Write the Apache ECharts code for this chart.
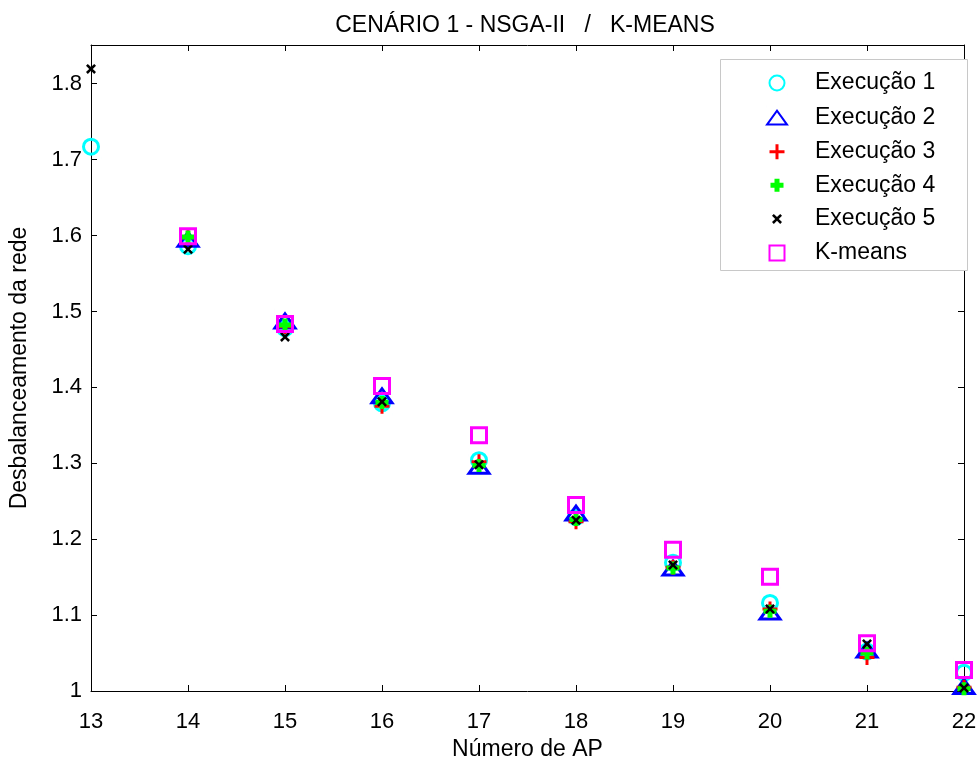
<!DOCTYPE html>
<html>
<head>
<meta charset="utf-8">
<script src="https://cdn.jsdelivr.net/npm/echarts@6/dist/echarts.min.js"></script>
<style>
  html, body { margin: 0; padding: 0; background: #fff; }
  #chart { width: 980px; height: 759px; }
</style>
</head>
<body>
<div id="chart"></div>
<script>
// Number of APs on the x axis
const numAP = [13, 14, 15, 16, 17, 18, 19, 20, 21, 22];
const yTicks = [1, 1.1, 1.2, 1.3, 1.4, 1.5, 1.6, 1.7, 1.8];

// Network imbalance per run (null = no solution drawn)
const execucao1 = [1.717, 1.586, 1.478, 1.379, 1.304, 1.229, 1.169, 1.116, 1.052, 1.024];
const execucao2 = [null, 1.595, 1.4875, 1.389, 1.296, 1.2345, 1.162, 1.104, 1.054, 1.006];
const execucao3 = [null, 1.597, 1.480, 1.375, 1.302, 1.223, 1.163, 1.108, 1.044, 1.005];
const execucao4 = [null, 1.598, 1.482, 1.380, 1.297, 1.226, 1.162, 1.105, 1.050, 1.003];
const execucao5 = [1.8195, 1.582, 1.4665, 1.381, 1.298, 1.225, 1.166, 1.108, 1.062, 1.004];
const kmeans    = [null, 1.599, 1.4835, 1.4018, 1.337, 1.245, 1.186, 1.1506, 1.063, 1.0277];

const seriesNames = ['Execução 1', 'Execução 2', 'Execução 3', 'Execução 4', 'Execução 5', 'K-means'];

function pairs(values) {
  const out = [];
  numAP.forEach((x, i) => { if (values[i] !== null) out.push([x, values[i]]); });
  return out;
}

// Marker outlines drawn inside a common 22x22 frame so every marker keeps
// its own size both on the plot and in the legend.
const frame = ' M0,0 L0.01,0 M22,22 L21.99,22';
const circlePath = 'path://M3.5,11 A7.5,7.5 0 1 1 18.5,11 A7.5,7.5 0 1 1 3.5,11 Z' + frame;
const trianglePath = 'path://M1,18 L11,4 L21,18 Z' + frame;
const plusPath = 'path://M9.5,3.5 H12.5 V9.5 H18.5 V12.5 H12.5 V18.5 H9.5 V12.5 H3.5 V9.5 H9.5 Z' + frame;
const fatPlusPath = 'path://M8.5,4.5 H13.5 V8.5 H17.5 V13.5 H13.5 V17.5 H8.5 V13.5 H4.5 V8.5 H8.5 Z' + frame;
const crossPath = 'path://M6,7.8 L7.8,6 L11,9.2 L14.2,6 L16,7.8 L12.8,11 L16,14.2 L14.2,16 L11,12.8 L7.8,16 L6,14.2 L9.2,11 Z' + frame;
const squarePath = 'path://M3.5,3.5 H18.5 V18.5 H3.5 Z' + frame;

const styles = [
  { symbol: circlePath, item: { color: 'transparent', borderColor: '#00ffff', borderWidth: 3, opacity: 1 } },
  { symbol: trianglePath, item: { color: 'transparent', borderColor: '#0000ff', borderWidth: 3, opacity: 1 } },
  { symbol: plusPath, item: { color: '#ff0000', opacity: 1 } },
  { symbol: fatPlusPath, item: { color: '#00ff00', opacity: 1 } },
  { symbol: crossPath, item: { color: '#000000', opacity: 1 } },
  { symbol: squarePath, item: { color: 'transparent', borderColor: '#ff00ff', borderWidth: 3, opacity: 1 } }
];
const dataSets = [execucao1, execucao2, execucao3, execucao4, execucao5, kmeans];

const series = dataSets.map((d, i) => ({
  name: seriesNames[i],
  type: 'scatter',
  data: pairs(d),
  symbol: styles[i].symbol,
  symbolSize: 22,
  symbolKeepAspect: true,
  itemStyle: styles[i].item,
  clip: false,
  z: 2 + i,
  emphasis: { disabled: true },
  xAxisIndex: 0,
  yAxisIndex: 0
}));

const font = 'Liberation Sans, Arial, sans-serif';
const tickInside = { show: true, inside: true, length: 6, lineStyle: { color: '#000', width: 1 } };
const axisLine = { show: true, lineStyle: { color: '#000', width: 1 } };

const chart = echarts.init(document.getElementById('chart'));
chart.setOption({
  animation: false,
  backgroundColor: '#fff',
  title: {
    text: 'CENÁRIO 1 - NSGA-II   /   K-MEANS',
    left: 520, top: 9, textAlign: 'center',
    textStyle: { fontFamily: font, fontSize: 23, fontWeight: 'normal', color: '#000' }
  },
  grid: { left: 91, right: 16, top: 45, bottom: 68, containLabel: false, outerBoundsMode: 'none' },
  legend: {
    orient: 'vertical',
    left: 760, top: 66,
    itemWidth: 22, itemHeight: 22,
    itemGap: 10.6,
    symbolKeepAspect: true,
    textStyle: { fontFamily: font, fontSize: 23, color: '#000', lineHeight: 22, padding: [0, 0, 0, 22] },
    selectedMode: false,
    data: seriesNames
  },
  graphic: [{
    type: 'rect',
    shape: { x: 720.5, y: 59.5, width: 247, height: 211 },
    style: { fill: '#fff', stroke: '#c8c8c8', lineWidth: 1 },
    z: 1
  }],
  xAxis: [{
    type: 'value', min: 13, max: 22, interval: 1,
    position: 'bottom',
    axisLine, axisTick: tickInside, splitLine: { show: false },
    axisLabel: { fontFamily: font, fontSize: 22, color: '#000', margin: 20 },
    name: 'Número de AP', nameLocation: 'middle', nameGap: 42,
    nameTextStyle: { fontFamily: font, fontSize: 23, color: '#000' }
  }, {
    type: 'value', min: 13, max: 22, interval: 1,
    position: 'top',
    axisLine, axisTick: tickInside, splitLine: { show: false },
    axisLabel: { show: false }
  }],
  yAxis: [{
    type: 'value', min: 1, max: 1.851, interval: 0.1,
    position: 'left',
    axisLine, axisTick: tickInside, splitLine: { show: false },
    axisLabel: {
      fontFamily: font, fontSize: 22, color: '#000', margin: 9, showMaxLabel: false,
      formatter: v => (yTicks.some(t => Math.abs(t - v) < 1e-6) ? String(+v.toFixed(1)) : '')
    },
    name: 'Desbalanceamento da rede', nameLocation: 'middle', nameGap: 60, nameRotate: 90,
    nameTextStyle: { fontFamily: font, fontSize: 23, color: '#000' }
  }, {
    type: 'value', min: 1, max: 1.851, interval: 0.1,
    position: 'right',
    axisLine, axisTick: tickInside, splitLine: { show: false },
    axisLabel: { show: false }
  }],
  series
});
</script>
</body>
</html>
